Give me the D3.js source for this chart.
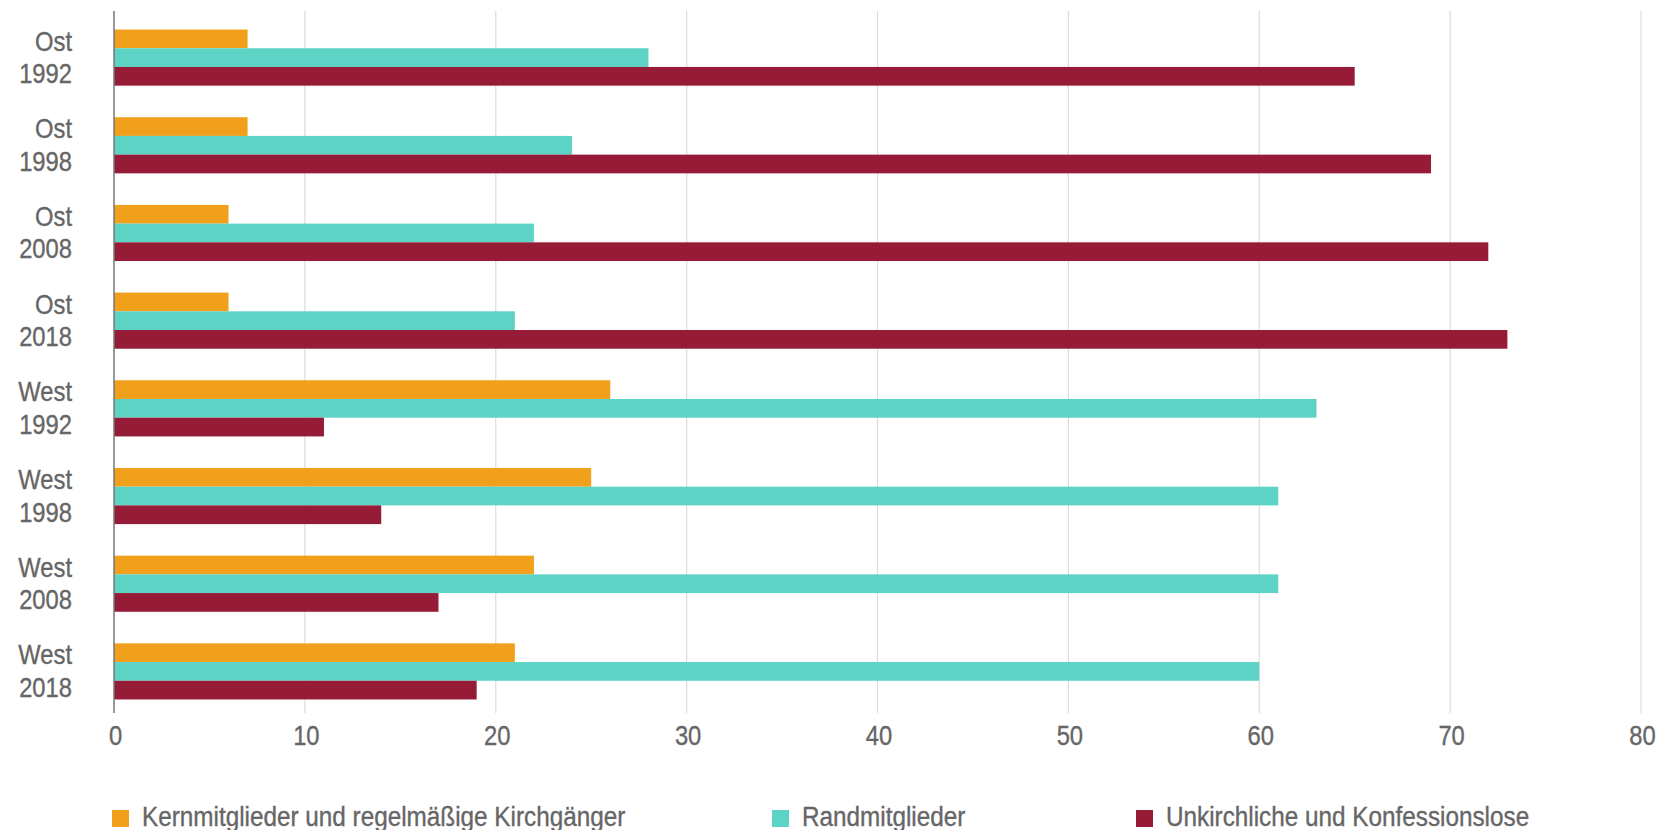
<!DOCTYPE html>
<html>
<head>
<meta charset="utf-8">
<script src="https://cdn.jsdelivr.net/npm/d3@7/dist/d3.min.js"></script>
<style>
  html, body { margin: 0; padding: 0; background: #fff; }
  svg { display: block; }
  text { font-family: "Liberation Sans", Arial, "DejaVu Sans", sans-serif; fill: #666; stroke: #666; stroke-width: 0.35; }
</style>
</head>
<body>
<svg id="chart" width="1668" height="830"></svg>
<script>
const regions = ["Ost", "Ost", "Ost", "Ost", "West", "West", "West", "West"];
const years = ["1992", "1998", "2008", "2018", "1992", "1998", "2008", "2018"];
const seriesNames = ["Kernmitglieder und regelmäßige Kirchgänger", "Randmitglieder", "Unkirchliche und Konfessionslose"];
const kern = [7, 7, 6, 6, 26, 25, 22, 21];
const rand = [28, 24, 22, 21, 63, 61, 61, 60];
const unkirchlich = [65, 69, 72, 73, 11, 14, 17, 19];
const xTicks = [0, 10, 20, 30, 40, 50, 60, 70, 80];
const colors = ["#F0A01A", "#5DD3C6", "#961B36"];

const series = [kern, rand, unkirchlich];
const groups = regions.map((r, i) => ({ key: i, region: r, year: years[i], values: series.map(s => s[i]) }));

const svg = d3.select("#chart");
const x = d3.scaleLinear().domain([0, 80]).range([114, 1641]);
const y = d3.scaleBand().domain(groups.map(g => g.key)).range([12, 717]).paddingInner(0.36).paddingOuter(0.2);
const ySub = d3.scaleBand().domain([0, 1, 2]).range([0, y.bandwidth()]);
const gridTop = 11, gridBottom = 713;
const sx = 0.88; // horizontal condensing of the text

// gridlines
svg.append("g").selectAll("line").data(xTicks.filter(t => t > 0)).join("line")
  .attr("x1", d => x(d)).attr("x2", d => x(d))
  .attr("y1", gridTop).attr("y2", gridBottom)
  .attr("stroke", "#dcdcdc").attr("stroke-width", 1.2);

// bars
const g = svg.append("g").selectAll("g").data(groups).join("g")
  .attr("transform", d => `translate(0,${y(d.key)})`);
g.selectAll("rect").data(d => d.values.map((v, i) => ({ v, i }))).join("rect")
  .attr("x", x(0))
  .attr("y", d => ySub(d.i))
  .attr("width", d => x(d.v) - x(0))
  .attr("height", ySub.bandwidth())
  .attr("fill", d => colors[d.i]);

// y axis line
svg.append("line").attr("x1", x(0)).attr("x2", x(0)).attr("y1", gridTop).attr("y2", gridBottom)
  .attr("stroke", "#777").attr("stroke-width", 1.5);

// category labels
const lab = svg.append("g").selectAll("text").data(groups).join("text")
  .attr("text-anchor", "end")
  .attr("font-size", 27)
  .attr("transform", d => `translate(72,${y(d.key) + y.bandwidth() / 2}) scale(${sx},1)`);
lab.append("tspan").attr("x", 0).attr("y", -7).text(d => d.region);
lab.append("tspan").attr("x", 0).attr("y", 25.5).text(d => d.year);

// x tick labels
svg.append("g").selectAll("text").data(xTicks).join("text")
  .attr("transform", d => `translate(${x(d) + 1.5},745) scale(${sx},1)`)
  .attr("text-anchor", "middle").attr("font-size", 27)
  .text(d => d);

// legend
const legendX = [112, 772, 1136];
const leg = svg.append("g").selectAll("g").data(seriesNames).join("g")
  .attr("transform", (d, i) => `translate(${legendX[i]},810)`);
leg.append("rect").attr("width", 17).attr("height", 17).attr("fill", (d, i) => colors[i]);
leg.append("text").attr("transform", `translate(30,16) scale(0.9,1)`).attr("font-size", 27).text(d => d);
</script>
</body>
</html>
